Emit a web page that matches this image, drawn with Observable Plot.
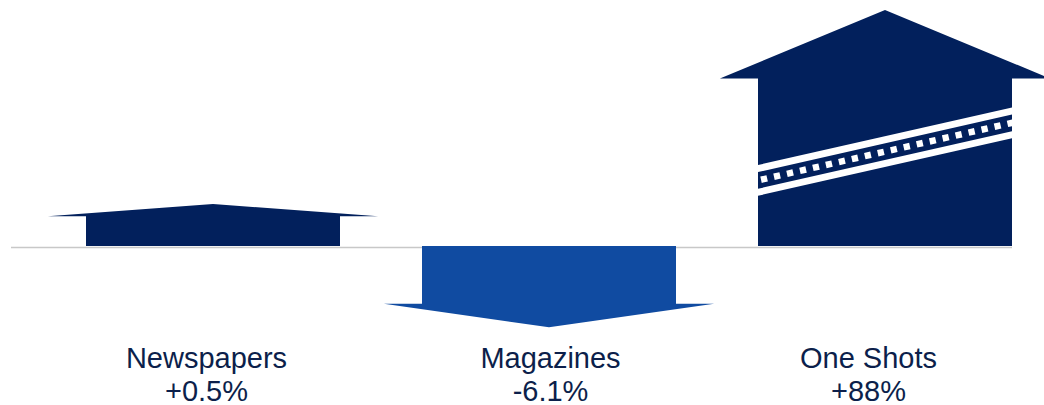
<!DOCTYPE html>
<html>
<head>
<meta charset="utf-8">
<script src="https://cdn.jsdelivr.net/npm/d3@7"></script>
<script src="https://cdn.jsdelivr.net/npm/@observablehq/plot@0.6"></script>
<style>
  html, body { margin: 0; padding: 0; background: #ffffff; }
  svg { display: block; }
</style>
</head>
<body>
<div id="chart"></div>
<script>
// ---- data ----
const categories = ["Newspapers", "Magazines", "One Shots"];
const changes = [0.5, -6.1, 88];
const changeLabels = ["+0.5%", "-6.1%", "+88%"];
const axisBreak = [false, false, true];

const data = categories.map((c, i) => ({
  category: c,
  change: changes[i],
  label: changeLabels[i],
  broken: axisBreak[i]
}));

// ---- style ----
const navy = "#02205c";
const blue = "#104ba1";
const textColor = "#0c1f4b";
const headFrac = 0.29;     // share of arrow length used by the head
const overhang = 0.15;     // head overhang as share of bar width

// arrows drawn through the plot's own x and y scales
function arrows(index, scales) {
  const x = scales.x, y = scales.y;
  const bw = x.bandwidth();
  const y0 = y(0);
  const g = d3.create("svg:g");
  data.forEach((d, i) => {
    const xl = x(d.category), xr = xl + bw, xc = xl + bw / 2;
    const yt = y(d.change);
    const L = yt - y0;
    const yh = y0 + L * (1 - headFrac);
    const ov = bw * overhang;
    const pts = [[xl, y0], [xl, yh], [xl - ov, yh], [xc, yt], [xr + ov, yh], [xr, yh], [xr, y0]];
    g.append("path")
      .attr("d", "M" + pts.map(p => p.join(",")).join("L") + "Z")
      .attr("fill", d.change < 0 ? blue : navy);
    if (d.broken) {
      const id = "clip-break-" + i;
      g.append("clipPath").attr("id", id)
        .append("rect")
        .attr("x", xl).attr("y", Math.min(yh, y0))
        .attr("width", bw).attr("height", Math.abs(y0 - yh));
      const ya = y0 + L * 0.278, yb = y0 + L * 0.522;
      const slope = (yb - ya) / (xr - xl);
      const ext = 20;
      const line = `M${xl - ext},${ya - slope * ext}L${xr + ext},${yb + slope * ext}`;
      const sg = g.append("g").attr("clip-path", `url(#${id})`);
      sg.append("path").attr("d", line).attr("stroke", "#ffffff").attr("stroke-width", 30).attr("fill", "none");
      sg.append("path").attr("d", line).attr("stroke", navy).attr("stroke-width", 16.3).attr("fill", "none");
      sg.append("path").attr("d", line).attr("stroke", "#ffffff").attr("stroke-width", 6.5)
        .attr("stroke-dasharray", "6.3 7").attr("stroke-dashoffset", 3).attr("fill", "none");
    }
  });
  return g.node();
}

const labelNudge = {"Newspapers": -7, "Magazines": 1, "One Shots": -17};

const labelMarks = categories.map(c =>
  Plot.text(data.filter(d => d.category === c), {
    x: "category",
    text: d => `${d.category}\n${d.label}`,
    frameAnchor: "bottom",
    lineAnchor: "top",
    dy: 17,
    dx: labelNudge[c],
    fontSize: 29,
    lineHeight: 1.14,
    fill: textColor,
    textAnchor: "middle"
  })
);

const chart = Plot.plot({
  width: 1044,
  height: 405,
  marginLeft: 85,
  marginRight: 32,
  marginTop: 10,
  marginBottom: 78,
  style: {fontFamily: "'Liberation Sans', Arial, sans-serif", background: "#ffffff"},
  x: {type: "band", domain: categories, paddingInner: 0.245, paddingOuter: 0, align: 0.5, axis: null},
  y: {type: "linear", domain: [-6.1, 0, 0.5, 88], range: [327.3, 246, 204, 10], axis: null},
  marks: [
    Plot.ruleY([0], {stroke: "#c8c8c8", strokeWidth: 1.5, dy: 1, insetLeft: -74}),
    arrows,
    ...labelMarks
  ]
});
document.getElementById("chart").appendChild(chart);
</script>
</body>
</html>
